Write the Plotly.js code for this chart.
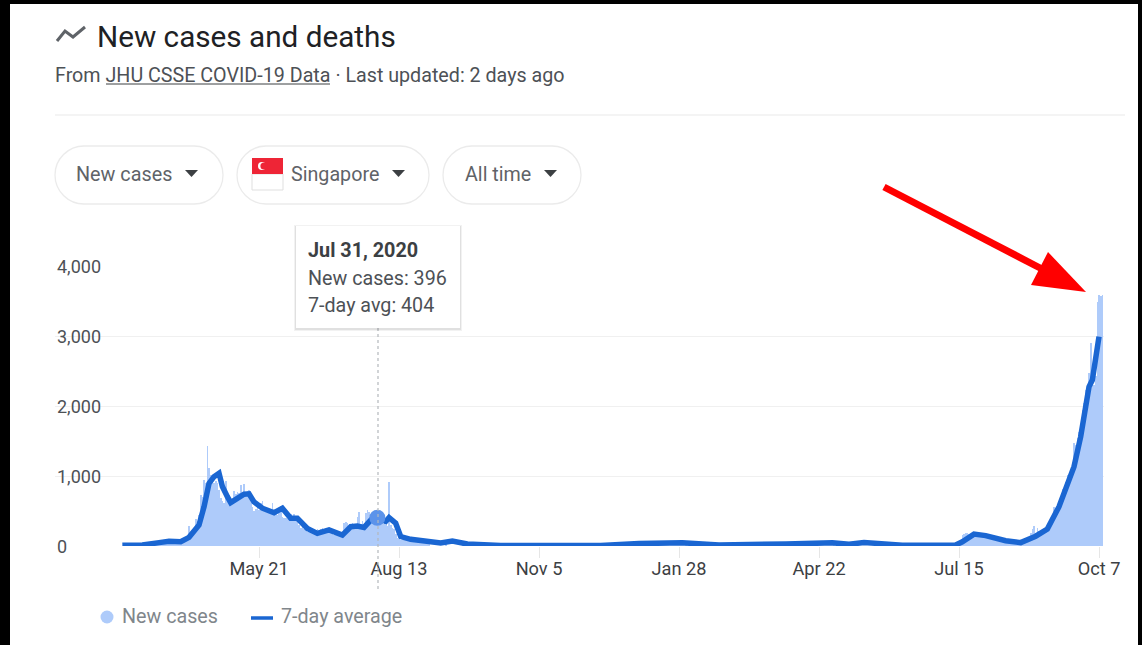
<!DOCTYPE html>
<html><head><meta charset="utf-8">
<script src="https://cdn.plot.ly/plotly-3.0.1.min.js"></script>
<style>html,body{margin:0;padding:0;background:#fff;overflow:hidden}#c{width:1142px;height:645px}</style>
</head><body><div id="c"></div>
<script>
// ---- values ----
const casesMar2020 = [2,3,2,2,5,5,8,10,5,10,8,10,13,9,14,17,23,47,32,40,47,54,40,49,73,60,55,70,60,55,60];
const casesApr2020 = [74,60,65,75,120,80,106,142,287,198,191,233,386,334,447,728,700,942,900,1426,1111,1016,950,900,931,900,800,690,650,620];
const casesMay2020 = [932,640,657,600,632,788,741,768,753,876,700,884,730,792,793,682,560,500,530,570,520,614,642,548,480,533,470,528,611,506,518];
const casesJun2020 = [450,544,569,420,400,400,383,386,451,422,451,380,407,300,260,280,247,262,200,220,218,191,170,191,246,213,246,262,213,200];
const casesJul2020 = [215,185,191,183,157,183,150,140,180,191,322,347,322,282,249,322,260,270,418,481,300,359,290,469,513,481,380,340,354,415,396];
const casesAug2020 = [380,340,340,320,300,280,908,300,260,240,170,120,100,80,91,86,80,93,101,93,88,72,70,64,50,60,77,65,70,58,44];
const casesQuietDates = ['2020-09-10','2020-09-20','2020-10-01','2020-10-15','2020-11-01','2020-11-15','2020-12-01','2020-12-15','2021-01-01','2021-01-15','2021-02-01','2021-02-15','2021-03-01','2021-03-15','2021-04-01','2021-04-15','2021-05-01','2021-05-15','2021-06-01','2021-06-15','2021-07-01'];
const casesQuiet = [60,25,12,8,8,9,8,9,30,40,40,18,12,15,30,35,40,30,20,14,14];
const casesJul2021 = [8,12,10,14,40,60,90,160,172,190,180,165,160,175,170,160,155,150,145,135,130,125];
const casesAug2021 = [115,110,105,100,95,90,85,80,75,78,72,70,65,60,58,55,52,50,50,48,55,60,65,85,100,130,180,250,280,190,260];
const casesSep2021 = [210,190,220,240,250,280,320,345,420,560,480,520,610,660,820,830,920,1010,1010,1060,1180,1466,1450,1540,1630,1640,1940,2040,2230,2300];
const casesOct2021 = [2470,2900,2470,2300,2430,3480,3590,3570,3590];

const avgDates = ['2020-02-29','2020-03-12','2020-03-22','2020-03-28','2020-04-04','2020-04-09','2020-04-15','2020-04-18','2020-04-21','2020-04-24','2020-04-27','2020-04-29','2020-05-02','2020-05-04','2020-05-08','2020-05-12','2020-05-15','2020-05-18','2020-05-23','2020-05-30','2020-06-04','2020-06-09','2020-06-13','2020-06-19','2020-06-25','2020-07-02','2020-07-10','2020-07-15','2020-07-19','2020-07-23','2020-07-28','2020-07-31','2020-08-05','2020-08-07','2020-08-11','2020-08-14','2020-08-20','2020-08-30','2020-09-07','2020-09-14','2020-09-23','2020-10-13','2020-11-06','2020-12-12','2021-01-04','2021-01-30','2021-02-21','2021-03-13','2021-04-02','2021-04-30','2021-05-10','2021-05-19','2021-06-11','2021-07-13','2021-07-17','2021-07-24','2021-07-31','2021-08-12','2021-08-21','2021-08-30','2021-09-06','2021-09-13','2021-09-19','2021-09-22','2021-09-26','2021-09-29','2021-10-01','2021-10-03','2021-10-05','2021-10-07'];
const avgValues = [10,15,48,67,62,124,300,560,895,990,1040,850,705,620,680,740,745,630,540,475,540,395,395,250,180,230,155,275,285,265,395,404,350,405,325,135,95,70,43,71,28,8,10,8,35,45,15,12,28,45,24,50,12,14,60,170,148,76,48,140,243,562,943,1133,1560,1990,2275,2370,2656,2990];

const tickDates = ['2020-05-21','2020-08-13','2020-11-05','2021-01-28','2021-04-22','2021-07-15','2021-10-07'];
const tickLabels = ['May 21','Aug 13','Nov 5','Jan 28','Apr 22','Jul 15','Oct 7'];
const yTicks = [0,1000,2000,3000,4000];
const yTickLabels = ['0','1,000','2,000','3,000','4,000'];
const hoverDate = '2020-07-31', hoverCases = 396, hoverAvg = 404;

function daily(start, n){const out=[];const t0=Date.parse(start+'T00:00:00Z');for(let i=0;i<n;i++)out.push(new Date(t0+i*864e5).toISOString().slice(0,10));return out;}
const barX = [].concat(daily('2020-03-01',casesMar2020.length),daily('2020-04-01',casesApr2020.length),daily('2020-05-01',casesMay2020.length),daily('2020-06-01',casesJun2020.length),daily('2020-07-01',casesJul2020.length),daily('2020-08-01',casesAug2020.length),casesQuietDates,daily('2021-07-10',casesJul2021.length),daily('2021-08-01',casesAug2021.length),daily('2021-09-01',casesSep2021.length),daily('2021-10-01',casesOct2021.length));
const barY = [].concat(casesMar2020,casesApr2020,casesMay2020,casesJun2020,casesJul2020,casesAug2020,casesQuiet,casesJul2021,casesAug2021,casesSep2021,casesOct2021);

// ---- page geometry ----
const W=1142,H=645,L=55,R=38,T=266,B=99;
const px=x=>(x-L)/(W-L-R), py=y=>1-(y-T)/(H-T-B);
const FONT='Roboto, Arial, sans-serif';
const rect=(x0,y0,x1,y1,fill,extra={})=>Object.assign({type:'rect',xref:'paper',yref:'paper',x0:px(x0),x1:px(x1),y0:py(y0),y1:py(y1),fillcolor:fill,line:{width:0},layer:'above'},extra);
const seg=(x0,y0,x1,y1,color,width,dash)=>({type:'line',xref:'paper',yref:'paper',x0:px(x0),x1:px(x1),y0:py(y0),y1:py(y1),line:{color,width,dash:dash||'solid'},layer:'above'});
const poly=(pts,fill,lc,lw)=>({type:'path',xref:'paper',yref:'paper',path:'M'+pts.map(p=>px(p[0])+','+py(p[1])).join(' L')+' Z',fillcolor:fill,line:{color:lc||fill,width:lw||0},layer:'above'});
const open=(pts,lc,lw)=>({type:'path',xref:'paper',yref:'paper',path:'M'+pts.map(p=>px(p[0])+','+py(p[1])).join(' L'),line:{color:lc,width:lw},layer:'above'});
function pill(x0,y0,x1,y1){const r=(y1-y0)/2,k=r*0.55,m=(y0+y1)/2;const P=(x,y)=>px(x)+','+py(y);
 return {type:'path',xref:'paper',yref:'paper',layer:'above',line:{color:'#ebebeb',width:1.3},fillcolor:'rgba(0,0,0,0)',
 path:`M${P(x0+r,y0)} L${P(x1-r,y0)} C${P(x1-r+k,y0)} ${P(x1,m-k)} ${P(x1,m)} C${P(x1,m+k)} ${P(x1-r+k,y1)} ${P(x1-r,y1)} L${P(x0+r,y1)} C${P(x0+r-k,y1)} ${P(x0,m+k)} ${P(x0,m)} C${P(x0,m-k)} ${P(x0+r-k,y0)} ${P(x0+r,y0)} Z`};}
const circle=(cx,cy,r,fill)=>({type:'circle',xref:'paper',yref:'paper',x0:px(cx-r),x1:px(cx+r),y0:py(cy-r),y1:py(cy+r),fillcolor:fill,line:{width:0},layer:'above'});
const text=(x,y,t,size,color,extra={})=>Object.assign({xref:'paper',yref:'paper',x:px(x),y:py(y),text:t,showarrow:false,xanchor:'left',yanchor:'middle',font:{family:FONT,size,color},align:'left',borderpad:0,borderwidth:0},extra);
const caret=(x,y)=>poly([[x,y],[x+13,y],[x+6.5,y+7]],'#3c4043');

const shapes=[
 // gridlines are interrupted behind the y labels
 rect(55,262,104,270,'#fff',{layer:'between'}),rect(55,332,104,340,'#fff',{layer:'between'}),rect(55,402,104,410,'#fff',{layer:'between'}),rect(55,472,104,480,'#fff',{layer:'between'}),rect(55,542,68,550,'#fff',{layer:'between'}),
 seg(378,328,378,592,'#b4b8bc',1.2,'dot'),
 // header
 open([[57,41],[65,31],[73,37],[85,27]],'#5f6368',3),
 seg(106,84,330,84,'#3c4043',1),
 seg(55,115,1125,115,'#e9e9e9',1),
 pill(55,146,223,204),pill(237,146,429,204),pill(443,146,581,204),
 caret(185,170),caret(392,170),caret(544,170),
 // flag
 rect(252,174,283,190,'#fff',{line:{color:'#dfdfdf',width:1}}),
 rect(252,158,283,174,'#ee2536'),
 circle(262,166,4,'#fff'),circle(264,166,3.6,'#ee2536'),
 // tooltip
 rect(294,225,462,331,'rgba(0,0,0,0.05)'),
 rect(295,226,461,330,'rgba(0,0,0,0.07)'),
 rect(296,226,460,328,'#fff'),
 // legend keys
 circle(107,617,6.5,'#aecbfa'),
 seg(251,618,273,618,'#1a66d2',3.5),
 // red arrow
 seg(884,187,1042,269,'#ff0000',7),
 poly([[1048,252],[1031,285],[1086,292]],'#ff0000'),
 // dark photo frame
 rect(0,0,1142,4,'#000'),rect(0,0,10,645,'#000'),rect(1138,0,1142,645,'#000')
];
const annotations=[
 text(97,36,'New cases and deaths',29.7,'#202124'),
 text(55,75,'From JHU CSSE COVID-19 Data · Last updated: 2 days ago',19.7,'#4d5156'),
 text(76,174,'New cases',19.8,'#5f6368'),text(291,174,'Singapore',19.7,'#5f6368'),text(465,174,'All time',19.7,'#5f6368'),
 text(308,250,'<b>Jul 31, 2020</b>',19.8,'#3c4043'),
 text(308,278,'New cases: '+hoverCases,19.7,'#4d5156'),
 text(308,305,'7-day avg: '+hoverAvg,19.7,'#4d5156'),
 text(122,616.5,'New cases',19.7,'#80868b'),
 text(281,616.5,'7-day average',19.7,'#80868b')
].concat(yTicks.map((v,i)=>({xref:'paper',yref:'y',x:px(55),y:v,text:yTickLabels[i],showarrow:false,xanchor:'left',yanchor:'middle',font:{family:FONT,size:18,color:'#4d5156'}})));

const data=[
 {type:'bar',x:barX,y:barY,name:'New cases',marker:{color:'#aecbfa',line:{width:0}},hoverinfo:'skip'},
 {type:'scatter',mode:'lines',x:avgDates,y:avgValues,name:'7-day average',line:{color:'#1a66d2',width:5.5},cliponaxis:false,hoverinfo:'skip'},
 {type:'scatter',mode:'markers',x:[hoverDate],y:[hoverAvg],marker:{size:16,color:'#5c93ea'},cliponaxis:false,hoverinfo:'skip'}
];
const layout={
 width:W,height:H,margin:{l:L,r:R,t:T,b:B,pad:0},paper_bgcolor:'#fff',plot_bgcolor:'#fff',showlegend:false,bargap:0,
 font:{family:FONT,color:'#3c4043'},
 xaxis:{type:'date',range:['2020-01-19 14:00','2021-10-10 00:00'],tickmode:'array',tickvals:tickDates,ticktext:tickLabels,ticks:'outside',ticklen:11,tickwidth:1,tickcolor:'#e6e6e6',ticklabelstandoff:-5,showgrid:false,zeroline:false,showline:false,tickfont:{family:FONT,size:18.2,color:'#3c4043'}},
 yaxis:{range:[0,4000],tickmode:'array',tickvals:yTicks,showticklabels:false,ticks:'',gridcolor:'#f0f0f0',gridwidth:1,zeroline:false,showline:false},
 shapes,annotations
};
Plotly.newPlot('c',data,layout,{displayModeBar:false,staticPlot:true});
</script></body></html>
